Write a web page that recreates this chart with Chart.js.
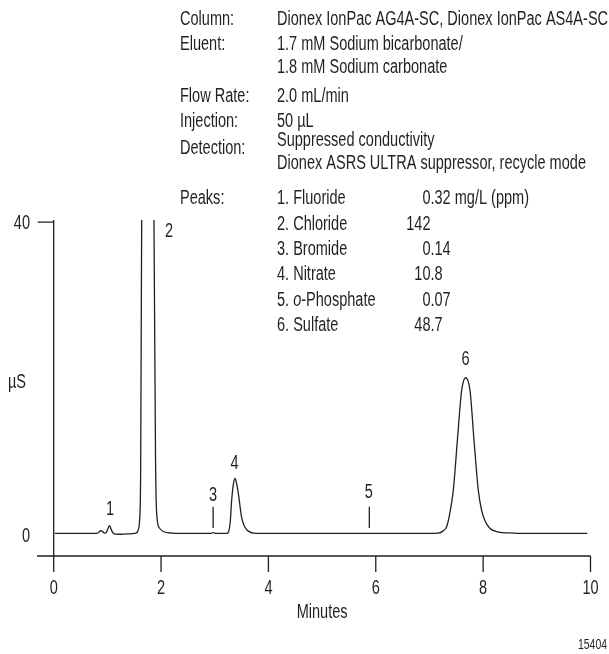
<!DOCTYPE html>
<html lang="en">
<head>
<meta charset="UTF-8">
<title>Anion chromatogram</title>
<style>
  html, body { margin: 0; padding: 0; background: #fff; }
  #wrap { position: relative; width: 609px; height: 654px; }
</style>
</head>
<body>
<div id="wrap"><canvas id="chromChart" width="609" height="654"></canvas></div>

<script src="https://cdn.jsdelivr.net/npm/chart.js"></script>
<script>
  // trace: retention time (min) and conductivity (µS)
  var minutes = [0.02, 0.80, 0.84, 0.87, 0.90, 0.95, 0.98, 1.01, 1.04, 1.07, 1.10, 1.15, 1.25, 1.40, 1.50,
                 1.546, 1.58, 1.60, 1.62, 1.639, 1.68, 1.83, 1.868, 1.90, 1.93, 1.97, 2.04, 2.20, 2.60,
                 2.92, 2.97, 3.02, 3.20, 3.25, 3.29, 3.316, 3.35, 3.378, 3.41, 3.44, 3.50, 3.60, 3.78,
                 4.50, 5.50, 6.50, 7.00, 7.165, 7.25, 7.32, 7.38, 7.444, 7.52, 7.60, 7.675, 7.755, 7.83,
                 7.91, 7.97, 8.03, 8.12, 8.25, 8.56, 9.00, 9.94];
  var microS  = [0.2, 0.2, 0.35, 0.55, 0.5, 0.25, 0.35, 0.8, 1.2, 0.75, 0.3, 0.12, 0.1, 0.15, 0.2,
                 0.3, 0.8, 1.9, 8, 40, 150, 150, 40, 8, 1.9, 0.9, 0.45, 0.25, 0.2,
                 0.2, 0.32, 0.2, 0.2, 0.3, 1.8, 4.5, 6.6, 7.25, 6.5, 5.3, 2.3, 0.65, 0.22,
                 0.2, 0.2, 0.2, 0.2, 0.25, 0.5, 1.06, 2.8, 5.7, 12.1, 18.5, 20.1, 18.5, 12.1,
                 5.7, 3.2, 1.9, 0.9, 0.45, 0.25, 0.2, 0.2];

  var xTicks = [0, 2, 4, 6, 8, 10];
  var yTicks = [0, 40];

  var peakNumbers = ['1', '2', '3', '4', '5', '6'];
  var peakNames = ['Fluoride', 'Chloride', 'Bromide', 'Nitrate', 'o-Phosphate', 'Sulfate'];
  var peakConc = ['0.32 mg/L (ppm)', '142', '0.14', '10.8', '0.07', '48.7'];
  // where each peak number is written (min, µS)
  var peakLabelMin = [1.05, 2.15, 2.97, 3.37, 5.87, 7.67];
  var peakLabelUS = [3.2, 38.8, 5.0, 9.1, 5.4, 22.4];
  // short marker strokes over the tiny peaks 3 and 5
  var markerMin = [2.97, 5.88];
  var markerFrom = 0.9, markerTo = 3.6;

  var conditions = [
    ['Column:', ['Dionex IonPac AG4A-SC, Dionex IonPac AS4A-SC']],
    ['Eluent:', ['1.7 mM Sodium bicarbonate/', '1.8 mM Sodium carbonate']],
    ['Flow Rate:', ['2.0 mL/min']],
    ['Injection:', ['50 µL']],
    ['Detection:', ['Suppressed conductivity', 'Dionex ASRS ULTRA suppressor, recycle mode']]
  ];

  var INK = '#231f20';
  var FAMILY = '"Liberation Sans", Arial, sans-serif';
  var SIZE = 19.5;
  var SQUEEZE = 0.745;   // condensed look
  function font(size, style) { return (style ? style + ' ' : '') + size + 'px ' + FAMILY; }

  // condensed text helper, returns drawn width
  function txt(ctx, s, x, y, align, size, style) {
    ctx.save();
    ctx.font = font(size || SIZE, style);
    ctx.textAlign = align || 'left';
    ctx.textBaseline = 'middle';
    ctx.translate(x, y);
    ctx.scale(SQUEEZE, 1);
    ctx.fillText(s, 0, 0);
    var w = ctx.measureText(s).width * SQUEEZE;
    ctx.restore();
    return w;
  }
  function textWidth(ctx, s) {
    ctx.save();
    ctx.font = font(SIZE);
    var w = ctx.measureText(s).width * SQUEEZE;
    ctx.restore();
    return w;
  }

  var trace = minutes.map(function (m, i) { return { x: m, y: microS[i] }; });
  var datasets = [{
    data: trace,
    borderColor: INK,
    borderWidth: 1.3,
    pointRadius: 0,
    cubicInterpolationMode: 'monotone',
    fill: false
  }];
  markerMin.forEach(function (m) {
    datasets.push({
      data: [{ x: m, y: markerFrom }, { x: m, y: markerTo }],
      borderColor: INK, borderWidth: 1.3, pointRadius: 0, fill: false
    });
  });

  var axesAndNotes = {
    id: 'axesAndNotes',
    afterDatasetsDraw: function (chart) {
      var ctx = chart.ctx, xs = chart.scales.x, ys = chart.scales.y, area = chart.chartArea;
      var x0 = xs.getPixelForValue(0);
      ctx.save();
      ctx.strokeStyle = INK;
      ctx.fillStyle = INK;
      ctx.lineWidth = 1.3;

      // axes lines and tick marks
      ctx.beginPath();
      ctx.moveTo(area.left, area.bottom);
      ctx.lineTo(area.right, area.bottom);
      xTicks.forEach(function (t) {
        var px = xs.getPixelForValue(t);
        ctx.moveTo(px, area.bottom);
        ctx.lineTo(px, area.bottom + 16);
      });
      ctx.moveTo(x0, area.top);
      ctx.lineTo(x0, area.bottom);
      var top = ys.getPixelForValue(40);
      ctx.moveTo(x0 - 16, top);
      ctx.lineTo(x0, top);
      ctx.stroke();

      // tick labels and axis titles
      xTicks.forEach(function (t) {
        txt(ctx, String(t), xs.getPixelForValue(t), area.bottom + 33, 'center');
      });
      txt(ctx, 'Minutes', (x0 + area.right) / 2, area.bottom + 57, 'center');
      txt(ctx, '40', 30, ys.getPixelForValue(40) + 2, 'right');
      txt(ctx, '0', 30, ys.getPixelForValue(0) + 2, 'right');
      txt(ctx, 'µS', 17, ys.getPixelForValue(19.5), 'center');

      // peak numbers
      peakNumbers.forEach(function (n, i) {
        txt(ctx, n, xs.getPixelForValue(peakLabelMin[i]), ys.getPixelForValue(peakLabelUS[i]), 'center');
      });

      // run conditions
      var rowY = [20, 45, 97, 122, 141];
      conditions.forEach(function (row, i) {
        var y = rowY[i];
        var labelY = row[1].length > 1 && i === 4 ? y + 8 : y;
        txt(ctx, row[0], 180, labelY, 'left');
        row[1].forEach(function (line, k) {
          txt(ctx, line, 277, y + k * 23, 'left');
        });
      });

      // peak table, amounts lined up on the decimal point
      txt(ctx, 'Peaks:', 180, 199, 'left');
      var decimalX = 430.5;
      peakNames.forEach(function (name, i) {
        var y = 199 + i * 25.3;
        var lead = (i + 1) + '. ';
        if (name.indexOf('o-') === 0) {
          var w = txt(ctx, lead, 277, y, 'left');
          var w2 = txt(ctx, 'o', 277 + w, y, 'left', SIZE, 'italic');
          txt(ctx, name.slice(1), 277 + w + w2, y, 'left');
        } else {
          txt(ctx, lead + name, 277, y, 'left');
        }
        var c = peakConc[i];
        var cut = c.indexOf('.');
        var whole = cut >= 0 ? c.slice(0, cut) : c;
        txt(ctx, c, decimalX - textWidth(ctx, whole), y, 'left');
      });

      txt(ctx, '15404', 607, 645, 'right', 14);
      ctx.restore();
    }
  };

  new Chart(document.getElementById('chromChart'), {
    type: 'line',
    data: { datasets: datasets },
    options: {
      responsive: false,
      animation: false,
      devicePixelRatio: 1,
      layout: { padding: { left: 37, right: 18.5, top: 220, bottom: 98 } },
      plugins: { legend: { display: false }, tooltip: { enabled: false } },
      scales: {
        x: { type: 'linear', min: -0.311, max: 10, display: false },
        y: { type: 'linear', min: -2.68, max: 40.26, display: false }
      }
    },
    plugins: [axesAndNotes]
  });
</script>
</body>
</html>
